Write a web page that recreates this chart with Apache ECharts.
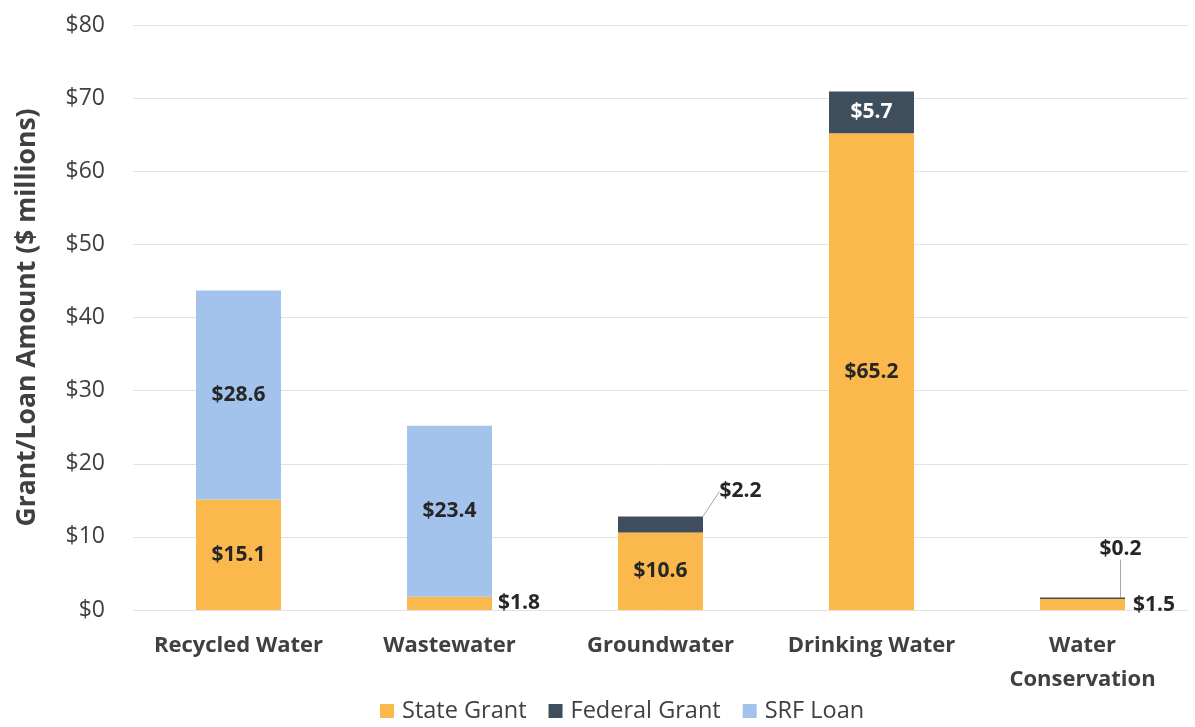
<!DOCTYPE html>
<html>
<head>
<meta charset="utf-8">
<script src="https://cdn.jsdelivr.net/npm/echarts@6/dist/echarts.min.js"></script>
<style>html,body{margin:0;padding:0;background:#fff}#c{width:1195px;height:727px}</style>
</head>
<body>
<div id="c"></div>
<script>
const categories = ['Recycled Water', 'Wastewater', 'Groundwater', 'Drinking Water', 'Water\nConservation'];
const stateGrant = [15.1, 1.8, 10.6, 65.2, 1.5];
const federalGrant = [0, 0, 2.2, 5.7, 0.2];
const srfLoan = [28.6, 23.4, 0, 0, 0];
const seriesNames = ['State Grant', 'Federal Grant', 'SRF Loan'];
const yTicks = { min: 0, max: 80, interval: 10 };

const FONT = '"Open Sans", "Noto Sans", sans-serif';
const colors = ['#fbb84c', '#3e4e5c', '#a3c3ec'];

// label overrides (style/placement only)
const overrides = {
  0: { 1: { position: 'right', distance: 6, offset: [0, -7] }, 4: { position: 'right', distance: 8 } },
  1: { 2: { moved: [80, -33] }, 4: { moved: [38, -49] }, 3: { color: '#ffffff' } },
  2: {}
};

function build(values, si) {
  return values.map((v, i) => {
    const o = overrides[si][i];
    const item = { value: v };
    if (o) {
      const lab = {};
      if (o.position) { lab.position = o.position; lab.distance = o.distance; if (o.offset) lab.offset = o.offset; }
      if (o.color) lab.color = o.color;
      if (o.moved) { item.labelLine = { show: true, lineStyle: { color: '#a6a6a6', width: 1 } }; }
      item.label = lab;
    }
    return item;
  });
}

const chart = echarts.init(document.getElementById('c'));
chart.setOption({
  animation: false,
  backgroundColor: '#fff',
  grid: { left: 133, right: 7, top: 25, bottom: 117 },
  legend: {
    bottom: -1, left: 375,
    itemWidth: 14, itemHeight: 14, itemGap: 22,
    icon: 'rect',
    textStyle: { fontFamily: FONT, fontSize: 23.5, color: '#404040', padding: [0, 0, 0, 3] },
    data: seriesNames
  },
  xAxis: {
    type: 'category',
    data: categories,
    axisLine: { show: false },
    axisTick: { show: false },
    axisLabel: { fontFamily: FONT, fontSize: 22, fontWeight: 'bold', color: '#404040', margin: 19, lineHeight: 34, interval: 0 }
  },
  yAxis: {
    type: 'value',
    min: yTicks.min, max: yTicks.max, interval: yTicks.interval,
    name: 'Grant/Loan Amount ($ millions)',
    nameLocation: 'middle',
    nameGap: 92,
    nameTextStyle: { fontFamily: FONT, fontSize: 26.5, fontWeight: 'bold', color: '#404040' },
    axisLabel: { fontFamily: FONT, fontSize: 23, color: '#404040', margin: 28, formatter: v => '$' + v },
    splitLine: { lineStyle: { color: '#e3e3e3', width: 1 } },
    axisLine: { show: false }, axisTick: { show: false }
  },
  series: [stateGrant, federalGrant, srfLoan].map((vals, si) => ({
    name: seriesNames[si],
    type: 'bar',
    stack: 'total',
    barWidth: 85,
    itemStyle: { color: colors[si] },
    label: {
      show: true,
      position: 'inside',
      fontFamily: FONT, fontSize: 21, fontWeight: 'bold', color: '#262626',
      formatter: p => p.value ? '$' + p.value.toFixed(1) : ''
    },
    labelLayout: function (params) {
      const o = overrides[si][params.dataIndex];
      if (o && o.moved) return { dx: o.moved[0], dy: o.moved[1] };
      return {};
    },
    data: build(vals, si)
  }))
});
</script>
</body>
</html>
